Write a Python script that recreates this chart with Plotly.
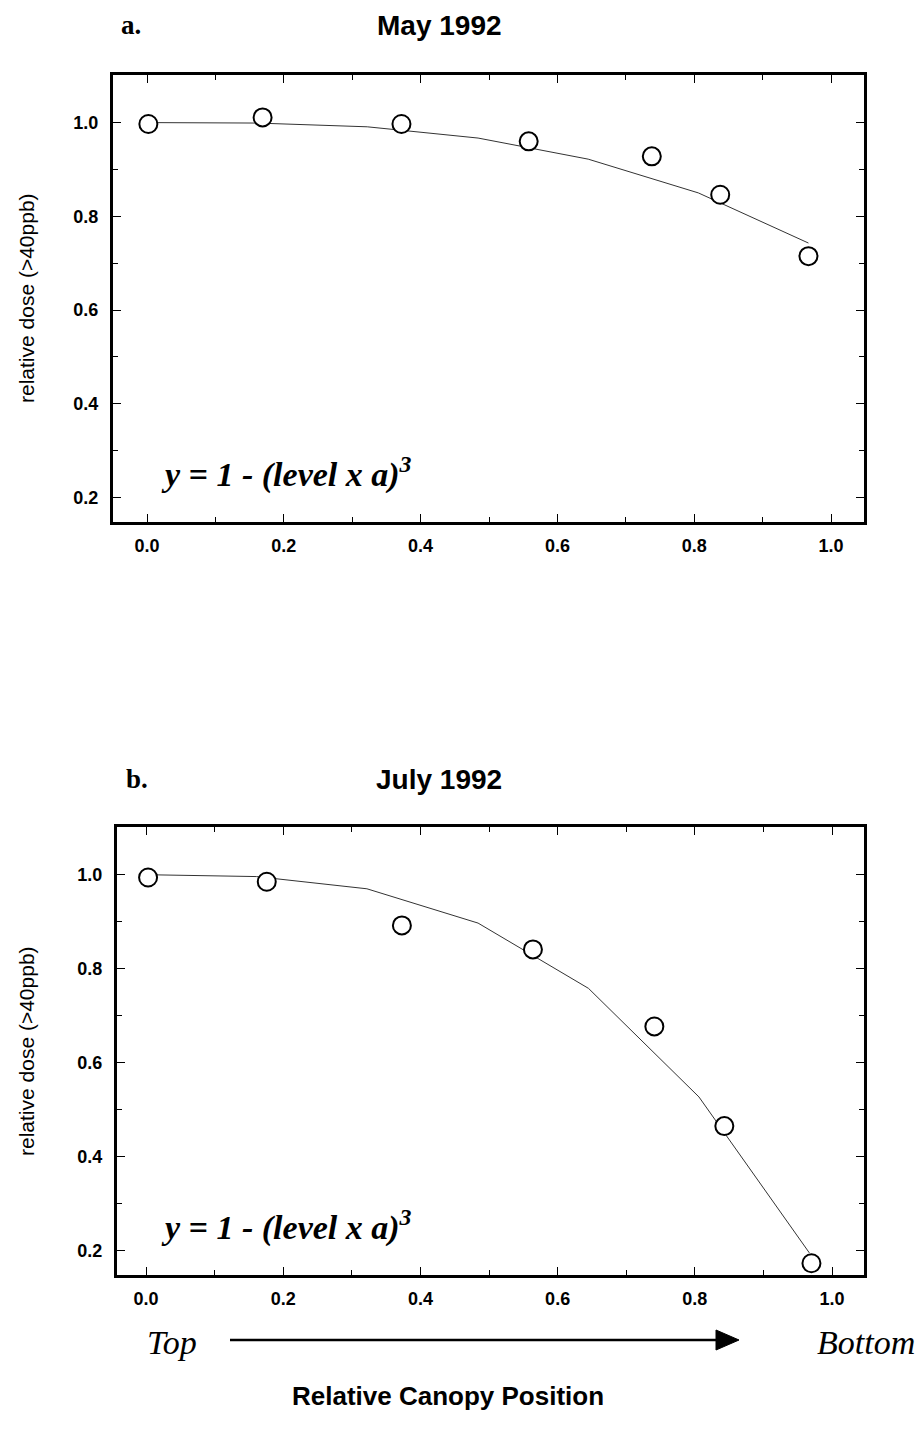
import plotly.graph_objects as go

W, H = 918, 1430

# ---- data ----
obs_x_a = [0.002, 0.169, 0.372, 0.558, 0.738, 0.838, 0.967]
obs_y_a = [0.997, 1.011, 0.997, 0.960, 0.928, 0.846, 0.715]
fit_x_a = [0.0, 0.161, 0.322, 0.484, 0.645, 0.806, 0.967]
fit_y_a = [1.0, 0.999, 0.991, 0.967, 0.922, 0.850, 0.743]

obs_x_b = [0.003, 0.176, 0.373, 0.564, 0.741, 0.843, 0.970]
obs_y_b = [0.994, 0.985, 0.892, 0.841, 0.677, 0.465, 0.173]
fit_x_b = [0.0, 0.161, 0.322, 0.484, 0.645, 0.806, 0.967]
fit_y_b = [1.0, 0.996, 0.970, 0.897, 0.758, 0.527, 0.195]

x_tickvals = [0.0, 0.2, 0.4, 0.6, 0.8, 1.0]
x_ticktext = ["0.0", "0.2", "0.4", "0.6", "0.8", "1.0"]
y_tickvals = [0.2, 0.4, 0.6, 0.8, 1.0]
y_ticktext = ["0.2", "0.4", "0.6", "0.8", "1.0"]

panel_labels = ["a.", "b."]
panel_titles = ["May 1992", "July 1992"]
y_title = "relative dose (>40ppb)"
equation = "y = 1 - (level x a)<sup>3</sup>"
x_title = "Relative Canopy Position"

def px(x):
    return x / W

def py(y):
    return 1 - y / H

fig = go.Figure()

# panel a
fig.add_trace(go.Scatter(x=fit_x_a, y=fit_y_a, mode="lines",
                         line=dict(color="#333333", width=1),
                         xaxis="x", yaxis="y", showlegend=False))
fig.add_trace(go.Scatter(x=obs_x_a, y=obs_y_a, mode="markers",
                         marker=dict(symbol="circle", size=18, color="white",
                                     line=dict(color="black", width=2)),
                         xaxis="x", yaxis="y", showlegend=False, cliponaxis=False))
# panel b
fig.add_trace(go.Scatter(x=fit_x_b, y=fit_y_b, mode="lines",
                         line=dict(color="#333333", width=1),
                         xaxis="x2", yaxis="y2", showlegend=False))
fig.add_trace(go.Scatter(x=obs_x_b, y=obs_y_b, mode="markers",
                         marker=dict(symbol="circle", size=18, color="white",
                                     line=dict(color="black", width=2)),
                         xaxis="x2", yaxis="y2", showlegend=False, cliponaxis=False))

tickfont = dict(family="Liberation Sans, Arial, sans-serif", size=18,
                color="black", weight="bold")

def xaxis_cfg(domain, rng, anchor):
    return dict(domain=domain, range=rng, anchor=anchor,
                showline=True, linewidth=3, linecolor="black", mirror="ticks",
                ticks="inside", ticklen=8, tickwidth=1, tickcolor="black",
                tickvals=x_tickvals, ticktext=x_ticktext, tickfont=tickfont,
                ticklabelstandoff=5,
                minor=dict(ticks="inside", ticklen=5, dtick=0.1, tick0=0,
                           tickcolor="black", tickwidth=1),
                showgrid=False, zeroline=False, fixedrange=True)

def yaxis_cfg(domain, rng, anchor):
    return dict(domain=domain, range=rng, anchor=anchor,
                showline=True, linewidth=3, linecolor="black", mirror="ticks",
                ticks="inside", ticklen=8, tickwidth=1, tickcolor="black",
                tickvals=y_tickvals, ticktext=y_ticktext, tickfont=tickfont,
                ticklabelstandoff=8,
                minor=dict(ticks="inside", ticklen=5, dtick=0.1, tick0=0,
                           tickcolor="black", tickwidth=1),
                showgrid=False, zeroline=False, fixedrange=True)

yrange = [0.148, 1.1015]
fig.update_layout(
    width=W, height=H,
    margin=dict(l=0, r=0, t=0, b=0),
    paper_bgcolor="white", plot_bgcolor="white",
    xaxis=xaxis_cfg([px(113), px(864)], [-0.0497, 1.0482], "y"),
    yaxis=yaxis_cfg([py(522), py(75)], yrange, "x"),
    xaxis2=xaxis_cfg([px(117), px(864)], [-0.0423, 1.0466], "y2"),
    yaxis2=yaxis_cfg([py(1275), py(827)], yrange, "x2"),
)

annos = []
label_font = dict(family="Liberation Serif, Times New Roman, serif", size=27,
                  color="black", weight="bold")
title_font = dict(family="Liberation Sans, Arial, sans-serif", size=28,
                  color="black", weight="bold")
ytitle_font = dict(family="Liberation Sans, Arial, sans-serif", size=21,
                   color="black")
eq_font = dict(family="Liberation Serif, Times New Roman, serif", size=34,
               color="black", weight="bold", style="italic")

for i, (top, lab, tit) in enumerate(zip([25, 779], panel_labels, panel_titles)):
    annos.append(dict(x=px(119 + 5 * i), y=py(top), xref="paper", yref="paper",
                      text=lab, showarrow=False, xanchor="left", yanchor="middle",
                      font=label_font))
    annos.append(dict(x=px(439), y=py(top), xref="paper", yref="paper",
                      text=tit, showarrow=False, xanchor="center", yanchor="middle",
                      font=title_font))

for cy in [298, 1051]:
    annos.append(dict(x=px(26), y=py(cy), xref="paper", yref="paper",
                      text=y_title, showarrow=False, textangle=-90,
                      xanchor="center", yanchor="middle", font=ytitle_font))

for cy in [472, 1225]:
    annos.append(dict(x=px(159), y=py(cy), xref="paper", yref="paper",
                      text=equation, showarrow=False, xanchor="left",
                      yanchor="middle", font=eq_font))

side_font = dict(family="Liberation Serif, Times New Roman, serif", size=34,
                 color="black", style="italic")
annos.append(dict(x=px(172), y=py(1342), xref="paper", yref="paper", text="Top",
                  showarrow=False, xanchor="center", yanchor="middle", font=side_font))
annos.append(dict(x=px(866), y=py(1342), xref="paper", yref="paper", text="Bottom",
                  showarrow=False, xanchor="center", yanchor="middle", font=side_font))
annos.append(dict(x=px(448), y=py(1396), xref="paper", yref="paper", text=x_title,
                  showarrow=False, xanchor="center", yanchor="middle",
                  font=dict(family="Liberation Sans, Arial, sans-serif", size=26,
                            color="black", weight="bold")))

shapes = [
    dict(type="line", xref="paper", yref="paper",
         x0=px(230), y0=py(1340), x1=px(720), y1=py(1340),
         line=dict(color="black", width=2.5)),
    dict(type="path", xref="paper", yref="paper",
         path=f"M {px(716)} {py(1330)} L {px(739)} {py(1340)} L {px(716)} {py(1350)} Z",
         fillcolor="black", line=dict(color="black", width=1)),
]

fig.update_layout(annotations=annos, shapes=shapes)

fig.write_html("out.html")
